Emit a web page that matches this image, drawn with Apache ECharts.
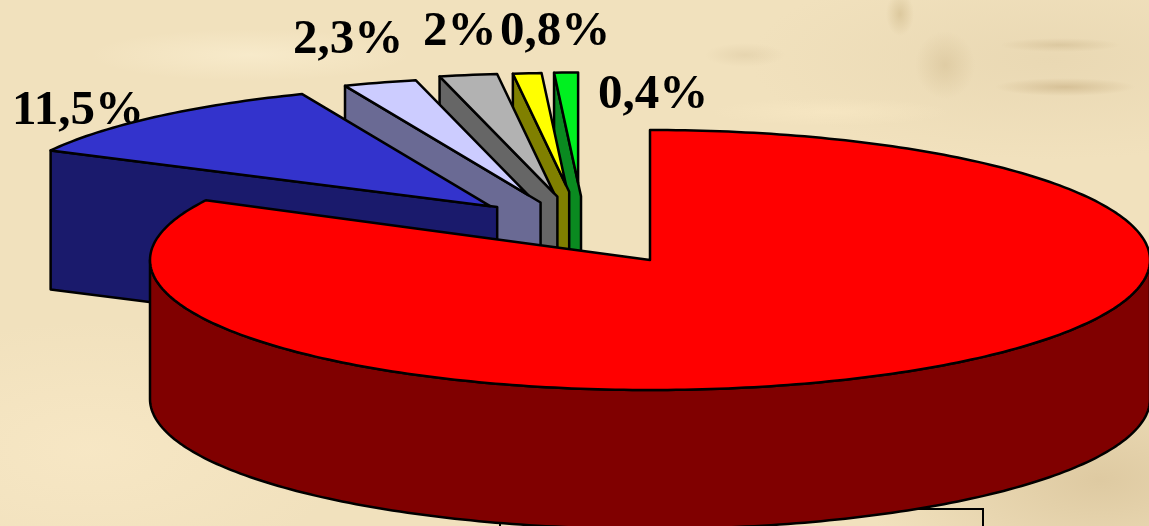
<!DOCTYPE html>
<html>
<head>
<meta charset="utf-8">
<title>3D pie</title>
<script src="https://cdn.jsdelivr.net/npm/echarts@6/dist/echarts.min.js"></script>
<style>
  html, body { margin: 0; padding: 0; overflow: hidden; }
  #chart {
    width: 1149px;
    height: 526px;
    background-color: #f1e1bd;
    background-image:
      radial-gradient(ellipse 70px 9px at 1065px 87px, rgba(200,175,130,.6), transparent),
      radial-gradient(ellipse 60px 7px at 1060px 45px, rgba(205,183,140,.5), transparent),
      radial-gradient(ellipse 14px 22px at 900px 14px, rgba(205,183,135,.55), transparent),
      radial-gradient(ellipse 40px 12px at 745px 55px, rgba(210,190,150,.35), transparent),
      radial-gradient(ellipse 30px 34px at 945px 65px, rgba(208,186,142,.45), transparent),
      radial-gradient(ellipse 160px 26px at 250px 55px, rgba(250,238,208,.7), transparent),
      radial-gradient(ellipse 120px 14px at 830px 112px, rgba(248,232,196,.7), transparent),
      radial-gradient(ellipse 240px 120px at 1100px 480px, rgba(214,192,150,.7), transparent),
      radial-gradient(ellipse 260px 130px at 90px 450px, rgba(248,232,198,.8), transparent),
      radial-gradient(ellipse 300px 100px at 1050px 60px, rgba(226,208,170,.5), transparent);
  }
</style>
</head>
<body>
<div id="chart"></div>
<script>
// printed labels, biggest slice has none in the picture
const labels = ['', '11,5%', '2,3%', '2%', '0,8%', '0,4%'];
// slice sizes as drawn in the picture (percent of the circle), clockwise from 12 o'clock
const sliceValues = [82.6, 11.2, 2.45, 1.9, 1.0, 0.85];
const topColors = ['#ff0000', '#3333cc', '#ccccff', '#b2b2b2', '#ffff00', '#00f020'];
const sideColors = ['#800000', '#1a1a6c', '#6a6a94', '#666666', '#808000', '#0a8a20'];
// how far each slice is pulled out, and the turn of that pull against the slice middle
const explodeDist = [0, 0.523, 0.555, 0.549, 0.6, 0.61];
const explodeTurn = [0, 4.8, -8.1, -10.4, -11.4, -12.1];
// back slices look a little smaller in the original perspective
const radiusScale = [1, 1.01, 0.985, 1, 0.935, 0.92];
// inner corner of the wall runs a bit past the top apex
const wallExtend = [0, 0.016, 0.067, 0.03, 0.06, 0.12];

const cx = 650, cy = 260;
const mainRx = 500, mainRy = 130;
const pulledRx = 490, pulledRy = 120;
const depth = 139;

const labelPos = [null, [12, 136], [293, 65], [423, 57], [500, 57], [598, 120]];

const total = sliceValues.reduce((a, b) => a + b, 0);
let sum = 0;
const rows = sliceValues.map((v, i) => {
  const start = sum / total * 360;
  sum += v;
  return [i, start, sum / total * 360];
});
// back slices first, the red one goes on top
const drawRows = rows.slice(1).reverse().concat([rows[0]]);

function rad(d) { return d * Math.PI / 180; }

function renderSlice(params, api) {
  const i = api.value(0), a0 = api.value(1), a1 = api.value(2);
  const mid = (a0 + a1) / 2 + explodeTurn[i];
  const rx = (i === 0 ? mainRx : pulledRx) * radiusScale[i];
  const ry = (i === 0 ? mainRy : pulledRy) * radiusScale[i];
  const ax = cx + mainRx * explodeDist[i] * Math.sin(rad(mid));
  const ay = cy - mainRy * explodeDist[i] * Math.cos(rad(mid));
  const pt = d => [ax + rx * Math.sin(rad(d)), ay - ry * Math.cos(rad(d))];
  const line = { stroke: '#000', lineWidth: 2.5, lineJoin: 'round' };
  const children = [];

  const arc = [];
  for (let d = a0; d < a1; d += 1) arc.push(pt(d));
  arc.push(pt(a1));

  if (i === 0) {
    // outer wall, only the front half of the rim shows
    const rim = [];
    for (let d = 90; d <= 270; d += 1) rim.push(pt(d));
    const low = rim.map(p => [p[0], p[1] + depth]).reverse();
    children.push({
      type: 'polygon',
      shape: { points: rim.concat(low) },
      style: Object.assign({ fill: sideColors[i] }, line)
    });
  } else {
    // wall along the left cut of the slice
    const left = arc[0];
    const bx = ax + (ax - left[0]) * wallExtend[i];
    const by = ay + (ay - left[1]) * wallExtend[i];
    children.push({
      type: 'polygon',
      shape: { points: [left, [bx, by], [bx, by + depth], [left[0], left[1] + depth]] },
      style: Object.assign({ fill: sideColors[i] }, line)
    });
  }
  children.push({
    type: 'polygon',
    shape: { points: [[ax, ay]].concat(arc) },
    style: Object.assign({ fill: topColors[i] }, line)
  });
  return { type: 'group', children: children };
}

const labelElements = labels.map((t, i) => t ? {
  type: 'text',
  z: 0,
  x: labelPos[i][0],
  y: labelPos[i][1],
  style: {
    text: t,
    font: 'bold 49px "Liberation Serif", serif',
    fill: '#000',
    verticalAlign: 'bottom'
  }
} : null).filter(Boolean);

// cut-off box at the bottom edge, sits behind the pie
const boxElement = {
  type: 'rect',
  z: 0,
  shape: { x: 500, y: 509, width: 483, height: 40 },
  style: { fill: 'rgba(0,0,0,0)', stroke: '#000', lineWidth: 2 }
};

const myChart = echarts.init(document.getElementById('chart'), null, { renderer: 'canvas' });
myChart.setOption({
  animation: false,
  backgroundColor: 'transparent',
  graphic: { elements: [boxElement].concat(labelElements) },
  series: [{
    type: 'custom',
    coordinateSystem: 'none',
    z: 2,
    silent: true,
    renderItem: renderSlice,
    data: drawRows
  }]
});
</script>
</body>
</html>
